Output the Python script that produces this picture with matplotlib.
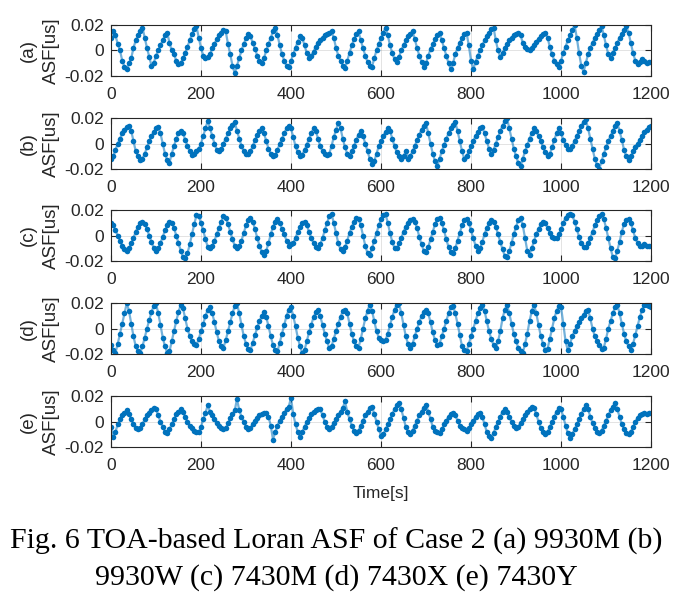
import numpy as np
import matplotlib.pyplot as plt

# time axis, one sample every 5 s
t = np.arange(0, 1201, 5)

# ASF in ns (1e-3 us)
asf_a = [10, 15, 12, 5, 0, -8, -13, -15, -10, -6, 2, 8,
         12, 15, 18, 10, 2, -5, -12, -10, -4, 0, 4, 8,
         12, 14, 6, 0, -3, -8, -11, -10, -6, -2, 3, 8,
         13, 17, 19, 10, 2, -4, -6, -5, -3, 2, 5, 9,
         12, 14, 16, 15, 5, -3, -12, -18, -12, -6, 0, 5,
         10, 13, 11, 6, 1, -4, -8, -10, -6, 0, 5, 10,
         15, 18, 12, 4, -3, -8, -12, -13, -8, -3, 2, 7,
         11, 10, 4, -2, -6, -4, -1, 3, 6, 8, 10, 12,
         13, 14, 15, 10, 2, -4, -8, -12, -14, -8, -2, 4,
         9, 13, 15, 8, 2, -4, -9, -12, -13, -6, 0, 5,
         10, 14, 18, 12, 4, -2, -7, -9, -5, 0, 4, 8,
         11, 13, 15, 9, 2, -4, -9, -13, -10, -4, 1, 5,
         9, 12, 14, 8, 2, -4, -10, -15, -10, -3, 2, 6,
         10, 13, 14, 4, -8, -15, -9, -4, 0, 4, 8, 11,
         14, 17, 18, 8, 0, -5, -2, 2, 5, 8, 10, 12,
         13, 14, 12, 6, 3, 1, 0, 2, 4, 7, 9, 11,
         13, 14, 10, 3, -3, -8, -11, -13, -8, -2, 3, 8,
         12, 16, 20, 10, -2, -12, -17, -10, -3, 2, 6, 10,
         13, 16, 19, 12, 4, -3, -6, -2, 2, 6, 10, 13,
         16, 19, 14, 6, -2, -8, -11, -9, -7, -8, -10, -9,
         -9]

asf_b = [-12, -10, -5, 0, 4, 8, 11, 13, 14, 10, 2, -6,
         -10, -13, -12, -8, -3, 2, 6, 9, 12, 13, 8, 0,
         -8, -13, -15, -8, -2, 4, 8, 10, 8, 3, -2, -6,
         -9, -8, -6, -4, 0, 6, 12, 18, 12, 6, 0, -5,
         -6, -4, 0, 4, 8, 12, 15, 17, 10, 4, -2, -6,
         -8, -8, -6, -2, 3, 7, 10, 12, 8, 2, -4, -8,
         -10, -9, -5, 0, 4, 8, 12, 14, 12, 5, -2, -7,
         -10, -9, -5, -1, 4, 8, 12, 10, 4, -2, -6, -8,
         -9, -8, -2, 5, 11, 16, 12, 4, -3, -8, -10, -6,
         -2, 3, 7, 10, 6, 0, -6, -12, -16, -14, -8, -2,
         2, 6, 9, 12, 10, 4, -2, -7, -10, -12, -10, -6,
         -12, -10, -6, -2, 3, 7, 11, 14, 16, 8, 0, -8,
         -14, -18, -12, -6, -1, 4, 8, 12, 15, 17, 10, 2,
         -6, -12, -10, -6, -2, 2, 6, 9, 12, 13, 8, 2,
         -4, -8, -5, 0, 5, 10, 14, 18, 20, 12, 4, -4,
         -10, -15, -18, -12, -6, -1, 4, 8, 12, 10, 6, 2,
         -3, -7, -10, -8, -3, 3, 8, 12, 8, 3, -1, -4,
         -4, -2, 2, 6, 10, 14, 17, 19, 12, 4, -4, -12,
         -17, -20, -14, -8, -3, 2, 6, 10, 14, 16, 10, 3,
         -5, -10, -13, -10, -6, -3, 0, 3, 6, 9, 11, 13,
         14]

asf_c = [10, 8, 4, 0, -4, -8, -11, -12, -10, -6, -2, 3,
         7, 10, 11, 9, 5, 0, -5, -10, -12, -10, -6, -1,
         4, 8, 11, 10, 6, 0, -6, -12, -17, -18, -14, -7,
         1, 9, 16, 15, 10, 4, -3, -9, -10, -8, -4, 1,
         6, 11, 15, 14, 9, 3, -3, -8, -10, -8, -4, 2,
         8, 12, 14, 11, 5, -2, -8, -13, -15, -12, -6, 1,
         7, 11, 13, 10, 5, 1, -4, -8, -7, -6, -2, 3,
         7, 10, 11, 8, 3, -2, -6, -9, -10, -7, -2, 4,
         10, 15, 17, 10, 2, -6, -11, -12, -9, -4, 2, 7,
         11, 14, 13, 8, 0, -8, -14, -15, -10, -4, 2, 8,
         13, 16, 17, 10, 2, -5, -10, -10, -6, -2, 3, 7,
         10, 12, 13, 11, 6, -1, -7, -12, -13, -9, -3, 3,
         9, 13, 14, 10, 4, -3, -9, -13, -14, -10, -4, 2,
         8, 12, 13, 10, 4, -2, -8, -12, -10, -5, 1, 6,
         10, 12, 11, 7, 1, -5, -11, -16, -17, -12, -6, 1,
         7, 12, 14, 8, -2, -12, -15, -10, -4, 1, 5, 9,
         11, 10, 6, 2, -1, -2, -2, 1, 5, 10, 14, 16,
         17, 16, 11, 5, -1, -6, -9, -9, -6, -2, 3, 8,
         12, 15, 17, 13, 6, -2, -10, -17, -18, -12, -5, 3,
         9, 12, 13, 10, 4, -2, -6, -8, -8, -7, -8, -8,
         -8]

asf_d = [-13, -17, -19, -12, -4, 4, 12, 20, 14, 4, -6, -14,
         -18, -19, -14, -7, 0, 7, 13, 18, 20, 12, 3, -7,
         -14, -19, -18, -10, -2, 6, 13, 19, 16, 8, 0, -6,
         -10, -12, -13, -8, -2, 4, 10, 15, 17, 12, 5, -3,
         -10, -14, -15, -9, -2, 5, 12, 18, 20, 12, 3, -6,
         -12, -16, -17, -11, -5, 1, 6, 10, 13, 9, 2, -6,
         -13, -17, -18, -11, -4, 3, 10, 15, 17, 10, 2, -7,
         -14, -19, -17, -10, -3, 3, 9, 13, 15, 10, 3, -4,
         -10, -15, -14, -8, -2, 4, 9, 14, 15, 12, 4, -4,
         -10, -14, -15, -8, 0, 8, 14, 19, 14, 6, -2, -7,
         -9, -10, -9, -4, 3, 9, 15, 19, 20, 12, 3, -6,
         -12, -15, -12, -6, 0, 5, 10, 13, 15, 12, 5, -3,
         -9, -13, -12, -6, 0, 6, 12, 17, 18, 12, 4, -5,
         -14, -17, -18, -12, -6, 0, 6, 12, 16, 19, 14, 6,
         -2, -8, -13, -15, -10, -2, 8, 15, 19, 12, 4, -4,
         -10, -15, -18, -19, -12, -4, 6, 14, 19, 12, 3, -6,
         -12, -17, -16, -8, 0, 8, 14, 18, 17, 4, -10, -17,
         -12, -6, -2, 2, 5, 8, 11, 14, 15, 8, 0, -6,
         -10, -13, -16, -15, -8, 0, 6, 12, 17, 19, 12, 4,
         -4, -10, -14, -17, -12, -5, 2, 9, 15, 19, 19, 18,
         17]

asf_e = [-4, -12, -8, -2, 2, 5, 7, 9, 6, 2, -2, -5,
         -6, -5, -2, 2, 5, 7, 9, 11, 10, 5, 0, -4,
         -8, -9, -6, -2, 2, 6, 8, 10, 8, 4, 0, -3,
         -5, -7, -8, -8, -4, 2, 7, 13, 8, 5, 2, -1,
         -3, -5, -6, -5, -1, 3, 6, 9, 18, 9, 4, 0,
         -4, -6, -5, -2, 1, 3, 5, 6, 7, 7, 4, -3,
         -14, -8, -3, 1, 4, 7, 10, 12, 19, 6, -2, -8,
         -12, -8, -4, 0, 3, 6, 8, 9, 10, 10, 5, 0,
         -4, -6, -4, -1, 2, 5, 8, 11, 16, 8, 2, -3,
         -7, -9, -7, -3, 1, 5, 8, 11, 12, 6, 0, -6,
         -11, -10, -6, -2, 2, 6, 10, 13, 15, 10, 3, -4,
         -8, -10, -7, -3, 1, 5, 8, 11, 13, 8, 2, -4,
         -7, -8, -9, -6, -2, 1, 4, 6, 7, 5, 1, -3,
         -5, -6, -7, -5, -2, 1, 4, 6, 7, 4, -2, -8,
         -11, -13, -9, -4, 0, 4, 8, 10, 8, 4, 0, -3,
         -5, -4, -1, 2, 5, 8, 10, 12, 11, 6, 0, -5,
         -8, -10, -8, -4, 0, 4, 8, 11, 10, 4, -3, -9,
         -13, -10, -6, -2, 2, 6, 10, 13, 10, 4, -1, -5,
         -8, -9, -7, -3, 1, 5, 9, 12, 15, 10, 4, -2,
         -6, -9, -10, -8, -4, 0, 3, 5, 6, 7, 6, 7,
         7]

labels = ['(a)', '(b)', '(c)', '(d)', '(e)']
series = [asf_a, asf_b, asf_c, asf_d, asf_e]
xticks = [0, 200, 400, 600, 800, 1000, 1200]
yticks = [-0.02, 0, 0.02]
yticklabels = ['-0.02', '0', '0.02']

plt.rcParams['font.family'] = 'Liberation Sans'
fig = plt.figure(figsize=(6.88, 5.97), dpi=100)

bottoms = [0.873, 0.717, 0.563, 0.407, 0.251]
for lab, y, b in zip(labels, series, bottoms):
    ax = fig.add_axes([0.1613, b, 0.785, 0.085])
    ax.plot(t, np.array(y) / 1000.0, '-', color='#0072BD', linewidth=1.6,
            alpha=0.55)
    ax.plot(t, np.array(y) / 1000.0, 'o', color='#0072BD', markersize=4,
            markeredgewidth=0)
    ax.set_xlim(0, 1200)
    ax.set_ylim(-0.02, 0.02)
    ax.set_xticks(xticks)
    ax.set_yticks(yticks)
    ax.set_yticklabels(yticklabels)
    ax.tick_params(direction='in', top=True, right=True, labelsize=12.5,
                   colors='#262626', length=4)
    ax.tick_params(axis='x', pad=8)
    ax.tick_params(axis='y', pad=5)
    ax.grid(True, color='#262626', alpha=0.15, linewidth=0.6)
    for s in ax.spines.values():
        s.set_color('#262626')
        s.set_linewidth(0.8)
    ax.set_ylabel(lab + '\nASF[us]', fontsize=13.5, color='#262626',
                  linespacing=1.5, labelpad=3)

fig.text(0.554, 0.174, 'Time[s]', ha='center', va='center', fontsize=12.5,
         color='#262626')

fig.text(0.015, 0.094, 'Fig. 6 TOA-based Loran ASF of Case 2 (a) 9930M (b)',
         ha='left', va='center', fontsize=21.5, family='Liberation Serif')
fig.text(0.138, 0.032, '9930W (c) 7430M (d) 7430X (e) 7430Y',
         ha='left', va='center', fontsize=21.5, family='Liberation Serif')

plt.savefig('out.png', dpi=100)
